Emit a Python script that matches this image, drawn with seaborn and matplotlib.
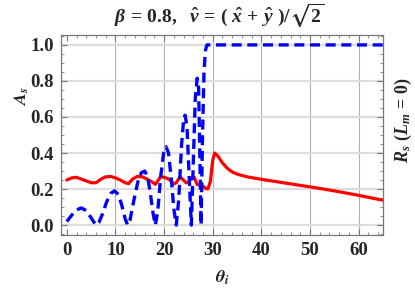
import numpy as np
import pandas as pd
import seaborn as sns
import matplotlib.pyplot as plt
from matplotlib.ticker import MultipleLocator

# blue dashed curve (A_s)
theta_a = [0, 1, 2, 3, 4, 5, 5.6, 6.1, 6.6, 7.3, 8.2, 9.0, 9.8, 10.6, 11.3, 12.0,
           12.5, 13.0, 13.8, 14.6, 15.3, 16.0, 16.6, 17.2, 17.7, 18.2, 18.7, 19.3,
           19.9, 20.4, 20.9, 21.5, 22.0, 22.5, 23.0, 23.6, 24.0, 24.3, 24.7, 25.1,
           25.6, 26.0, 26.4, 26.8, 27.1, 27.4, 27.6, 27.9, 28.2, 28.5, 28.8, 65]
a_s = [0.02, 0.055, 0.085, 0.095, 0.08, 0.04, 0.015, 0.0, 0.015, 0.06, 0.13, 0.175,
       0.19, 0.17, 0.11, 0.035, 0.0, 0.03, 0.14, 0.24, 0.29, 0.30, 0.27, 0.17, 0.07,
       0.0, 0.08, 0.27, 0.40, 0.435, 0.40, 0.25, 0.09, 0.0, 0.14, 0.45, 0.58, 0.61,
       0.55, 0.30, 0.0, 0.35, 0.70, 0.815, 0.76, 0.30, 0.0, 0.50, 0.85, 0.97, 1.0, 1.0]

# red solid curve (R_s)
theta_r = [0, 1, 2, 3, 4, 5, 6, 7, 8, 9, 10, 11, 12, 12.7, 13.5, 14.5, 15.5, 16.5,
           17.5, 18.2, 18.7, 19.3, 20, 21, 22, 22.5, 23.2, 23.8, 24.5, 25, 25.6, 26.2,
           26.8, 27.4, 28, 28.5, 29, 29.5, 30, 30.4, 31, 32, 33, 34, 35, 37, 40, 45,
           50, 55, 60, 65]
r_s = [0.25, 0.262, 0.265, 0.255, 0.245, 0.235, 0.235, 0.255, 0.268, 0.27, 0.262,
       0.25, 0.235, 0.23, 0.255, 0.27, 0.268, 0.255, 0.24, 0.226, 0.245, 0.27, 0.265,
       0.255, 0.228, 0.235, 0.265, 0.255, 0.235, 0.238, 0.26, 0.265, 0.225, 0.22,
       0.215, 0.205, 0.2, 0.24, 0.36, 0.40, 0.385, 0.345, 0.315, 0.295, 0.283, 0.268,
       0.254, 0.233, 0.212, 0.19, 0.165, 0.138]

x_ticks = [0, 10, 20, 30, 40, 50, 60]
y_ticks = [0.0, 0.2, 0.4, 0.6, 0.8, 1.0]

sns.set_style("ticks")
plt.rcParams["font.family"] = ["Liberation Serif", "DejaVu Serif"]
plt.rcParams["font.weight"] = "bold"
plt.rcParams["mathtext.fontset"] = "custom"
plt.rcParams["mathtext.rm"] = "Liberation Serif:bold"
plt.rcParams["mathtext.it"] = "Liberation Serif:italic:bold"
plt.rcParams["mathtext.bf"] = "Liberation Serif:bold"
plt.rcParams["mathtext.fallback"] = "stix"

fig = plt.figure(figsize=(4.15, 2.94), dpi=100)
ax = fig.add_axes([61 / 415, 1 - 235 / 294, (383 - 61) / 415, (235 - 35) / 294])

df_a = pd.DataFrame({"theta": theta_a, "val": a_s})
df_r = pd.DataFrame({"theta": theta_r, "val": r_s})

sns.lineplot(data=df_r, x="theta", y="val", ax=ax, color="#ff0000", lw=2.3,
             estimator=None, sort=False)
sns.lineplot(data=df_a, x="theta", y="val", ax=ax, color="#0000ff", lw=2.4,
             estimator=None, sort=False, linestyle=(0, (3.0, 1.7)))

ax.set_xlim(-1.2, 65)
ax.set_ylim(-0.055, 1.055)
ax.set_xticks(x_ticks)
ax.set_yticks(y_ticks)
ax.set_xticklabels([str(t) for t in x_ticks], fontweight="bold", fontsize=13.5)
ax.set_yticklabels([f"{t:.1f}" for t in y_ticks], fontweight="bold", fontsize=13.5)
ax.xaxis.set_minor_locator(MultipleLocator(2))
ax.yaxis.set_minor_locator(MultipleLocator(0.05))

for xv in x_ticks[1:]:
    ax.axvline(xv, color="#b0b0b0", lw=0.8, zorder=0)
for yv in y_ticks:
    ax.axhline(yv, color="#dcdcdc", lw=1.6, zorder=0)

ax.tick_params(which="both", direction="in", top=True, right=True, color="#777777")
ax.tick_params(which="major", length=4, width=0.8, pad=5)
ax.tick_params(which="minor", length=2.2, width=0.6)
for sp in ax.spines.values():
    sp.set_color("#777777")
    sp.set_linewidth(0.9)

ax.set_xlabel("")
ax.set_ylabel("")
fig.text(0.5 * (61 + 383) / 415, 1 - 278 / 294, r"$\theta_i$", ha="center", va="center",
         fontsize=13, math_fontfamily="stix")
fig.text(22 / 415, 1 - 96 / 294, r"$A_s$", ha="center", va="center", rotation=90,
         fontsize=13, math_fontfamily="stix")
fig.text(403 / 415, 1 - 120 / 294, r"$R_s\ (L_m\,=\,0)$", ha="center", va="center",
         rotation=90, fontsize=13)
fig.text(219 / 415, 1 - 16 / 294,
         r"$\beta\,=\,0.8,\ \ \hat{v}\,=\,(\ \hat{x}\,+\,\hat{y}\ )/\sqrt{2}$",
         ha="center", va="center", fontsize=14)

fig.savefig("out.png", dpi=100)
